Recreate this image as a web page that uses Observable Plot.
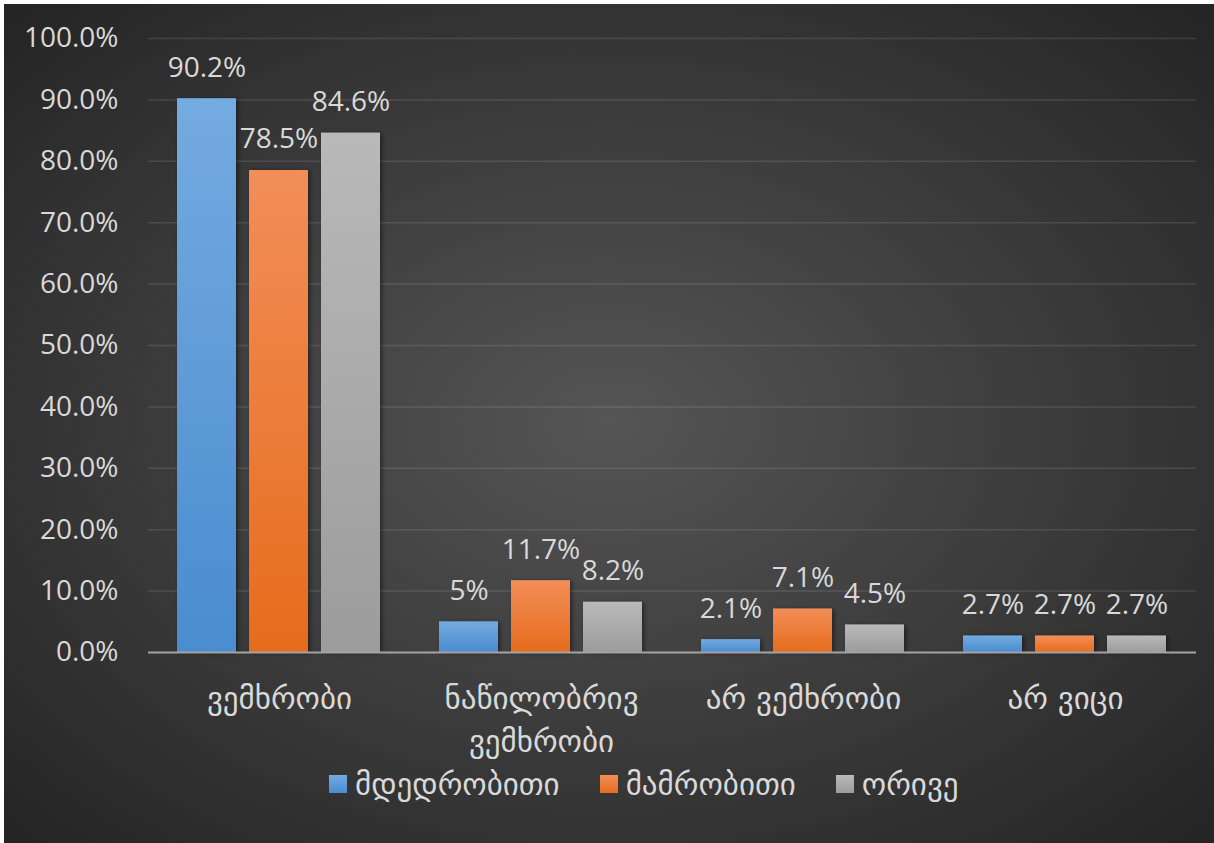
<!DOCTYPE html>
<html>
<head>
<meta charset="utf-8">
<script src="https://cdn.jsdelivr.net/npm/d3@7"></script>
<script src="https://cdn.jsdelivr.net/npm/@observablehq/plot@0.6"></script>
<style>
  html, body { margin: 0; padding: 0; background: #ffffff; }
  #chart {
    position: absolute; left: 4px; top: 4px; width: 1210px; height: 839px;
    background: radial-gradient(ellipse farthest-corner at 50% 50%, #555555 0%, #3a3a3a 55%, #242424 100%);
    font-family: "Open Sans", "DejaVu Sans", sans-serif; overflow: hidden;
  }
  #plot { position: absolute; left: 0; top: 0; }
  #plot svg { background: transparent; }
  #plot g[aria-label="bar"] rect { filter: drop-shadow(2px 1px 2px rgba(0,0,0,0.45)); }
  #legend {
    position: absolute; left: 325px; top: 762px;
    display: flex; justify-content: flex-start; align-items: center; gap: 40px;
    color: #d9d9d9; font-size: 31px; font-family: "DejaVu Sans", sans-serif; white-space: nowrap;
  }
  #legend .item { display: flex; align-items: center; gap: 8px; }
  #legend .sw { width: 18px; height: 18px; }
</style>
</head>
<body>
<div id="chart">
  <div id="plot"></div>
  <div id="legend"></div>
</div>
<script>
const categories = ["ვემხრობი", "ნაწილობრივ ვემხრობი", "არ ვემხრობი", "არ ვიცი"];
const categoryLines = ["ვემხრობი", "ნაწილობრივ\nვემხრობი", "არ ვემხრობი", "არ ვიცი"];
const series = ["მდედრობითი", "მამრობითი", "ორივე"];
const female = [90.2, 5, 2.1, 2.7];
const male = [78.5, 11.7, 7.1, 2.7];
const both = [84.6, 8.2, 4.5, 2.7];
const yTicks = [0, 10, 20, 30, 40, 50, 60, 70, 80, 90, 100];

const seriesValues = [female, male, both];
const gradIds = ["gBlue", "gOrange", "gGray"];
const gradStops = [["#74abe0", "#4a8ccf"], ["#f28e58", "#e66c1c"], ["#b9b9b9", "#9c9c9c"]];

const data = [];
categories.forEach((c, i) => {
  series.forEach((s, j) => {
    data.push({category: c, series: s, value: seriesValues[j][i], fill: `url(#${gradIds[j]})`});
  });
});

function defs() {
  const svgNS = "http://www.w3.org/2000/svg";
  const d = document.createElementNS(svgNS, "defs");
  gradIds.forEach((id, j) => {
    const g = document.createElementNS(svgNS, "linearGradient");
    g.setAttribute("id", id);
    g.setAttribute("x1", "0"); g.setAttribute("y1", "0");
    g.setAttribute("x2", "0"); g.setAttribute("y2", "1");
    [0, 1].forEach(k => {
      const st = document.createElementNS(svgNS, "stop");
      st.setAttribute("offset", k);
      st.setAttribute("stop-color", gradStops[j][k]);
      g.appendChild(st);
    });
    d.appendChild(g);
  });
  return d;
}

const plot = Plot.plot({
  width: 1210,
  height: 770,
  marginLeft: 143,
  marginRight: 17,
  marginTop: 34,
  marginBottom: 122,
  style: {background: "transparent", color: "#d9d9d9", fontFamily: "'Open Sans', 'DejaVu Sans', sans-serif"},
  fx: {domain: categories, padding: 0, axis: null},
  x: {domain: series, paddingInner: 0.18, paddingOuter: 0.39, axis: null},
  y: {domain: [0, 100], axis: null},
  color: {type: "identity"},
  marks: [
    defs,
    Plot.ruleY(yTicks.slice(1), {stroke: "#ffffff", strokeOpacity: 0.11, strokeWidth: 1.5}),
    Plot.barY(data, {fx: "category", x: "series", y: "value", fill: "fill"}),
    Plot.ruleY([0], {stroke: "#a3a3a3", strokeWidth: 2}),
    Plot.text(data, {fx: "category", x: "series", y: "value", text: d => `${d.value}%`,
      dy: -31, lineAnchor: "middle", fill: "#d9d9d9", fontSize: 28}),
    Plot.axisY({ticks: yTicks, tickSize: 0, tickPadding: 30, fontSize: 28, fill: "#d9d9d9", label: null,
      tickFormat: d => d.toFixed(1) + "%"}),
    Plot.axisFx({anchor: "bottom", label: null, tickSize: 0, tickPadding: 27, fontSize: 31, fill: "#d9d9d9",
      lineHeight: 1.36, fontFamily: "DejaVu Sans",
      tickFormat: d => categoryLines[categories.indexOf(d)]})
  ]
});
document.getElementById("plot").appendChild(plot);

const legend = document.getElementById("legend");
series.forEach((s, j) => {
  const item = document.createElement("div");
  item.className = "item";
  const sw = document.createElement("div");
  sw.className = "sw";
  sw.style.background = `linear-gradient(${gradStops[j][0]}, ${gradStops[j][1]})`;
  const t = document.createElement("span");
  t.textContent = s;
  item.appendChild(sw); item.appendChild(t);
  legend.appendChild(item);
});
</script>
</body>
</html>
